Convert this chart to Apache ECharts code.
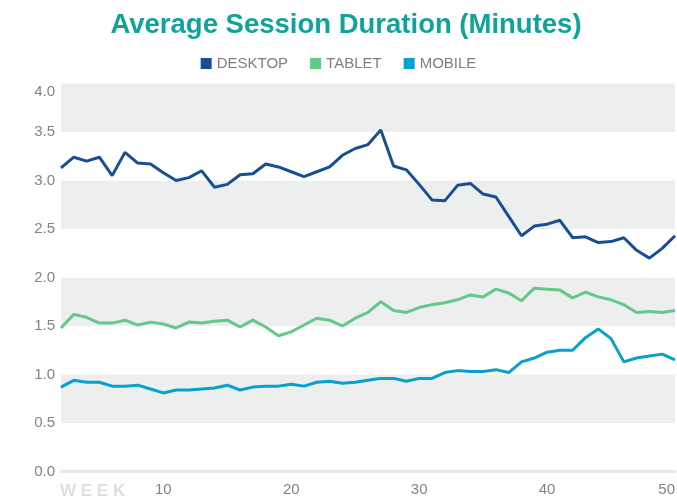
<!DOCTYPE html>
<html>
<head>
<meta charset="utf-8" />
<script src="https://cdn.jsdelivr.net/npm/echarts@6/dist/echarts.min.js"></script>
<style>
	html, body { margin: 0; padding: 0; background: #fff; }
	#chart { width: 677px; height: 500px; }
</style>
</head>
<body>
<div id="chart"></div>
<script>
	// weeks 2..50
	var weeks = [];
	for (var w = 2; w <= 50; w++) weeks.push(w);

	var desktop = [3.13, 3.24, 3.20, 3.24, 3.05, 3.29, 3.18, 3.17, 3.08, 3.00,
		3.03, 3.10, 2.93, 2.96, 3.06, 3.07, 3.17, 3.14, 3.09, 3.04,
		3.09, 3.14, 3.26, 3.33, 3.37, 3.52, 3.15, 3.11, 2.96, 2.80,
		2.79, 2.95, 2.97, 2.86, 2.83, 2.63, 2.43, 2.53, 2.55, 2.59,
		2.41, 2.42, 2.36, 2.37, 2.41, 2.28, 2.20, 2.30, 2.43];

	var tablet = [1.48, 1.62, 1.59, 1.53, 1.53, 1.56, 1.51, 1.54, 1.52, 1.48,
		1.54, 1.53, 1.55, 1.56, 1.49, 1.56, 1.49, 1.40, 1.44, 1.51,
		1.58, 1.56, 1.50, 1.58, 1.64, 1.75, 1.66, 1.64, 1.69, 1.72,
		1.74, 1.77, 1.82, 1.80, 1.88, 1.84, 1.76, 1.89, 1.88, 1.87,
		1.79, 1.85, 1.80, 1.77, 1.72, 1.64, 1.65, 1.64, 1.66];

	var mobile = [0.87, 0.94, 0.92, 0.92, 0.88, 0.88, 0.89, 0.85, 0.81, 0.84,
		0.84, 0.85, 0.86, 0.89, 0.84, 0.87, 0.88, 0.88, 0.90, 0.88,
		0.92, 0.93, 0.91, 0.92, 0.94, 0.96, 0.96, 0.93, 0.96, 0.96,
		1.02, 1.04, 1.03, 1.03, 1.05, 1.02, 1.13, 1.17, 1.23, 1.25,
		1.25, 1.38, 1.47, 1.37, 1.13, 1.17, 1.19, 1.21, 1.15];

	var yTicks = [0, 0.5, 1, 1.5, 2, 2.5, 3, 3.5, 4];

	var fontFam = "'Liberation Sans', Arial, sans-serif";
	var labelColor = "#7f8484";

	var chart = echarts.init(document.getElementById('chart'), null, { renderer: 'canvas' });

	var option = {
		animation: false,
		color: ['#174f92', '#62c987', '#07a1cd'],
		title: {
			text: 'Average Session Duration (Minutes)',
			left: 341,
			textAlign: 'center',
			top: 6,
			textStyle: {
				fontFamily: fontFam,
				fontSize: 27.5,
				fontWeight: 'bold',
				color: '#0fa39b'
			}
		},
		legend: {
			top: 51,
			left: 'center',
			itemWidth: 11,
			itemHeight: 11,
			itemGap: 22,
			icon: 'rect',
			textStyle: {
				fontFamily: fontFam,
				fontSize: 15,
				color: '#7a7f80'
			},
			data: ['DESKTOP', 'TABLET', 'MOBILE']
		},
		grid: {
			left: 61,
			right: 2,
			top: 83.5,
			bottom: 28.5,
			containLabel: false,
			outerBoundsMode: 'none'
		},
		xAxis: {
			type: 'category',
			boundaryGap: false,
			data: weeks,
			axisLine: { show: true, lineStyle: { color: '#e8e8e8', width: 3 } },
			axisTick: { show: false },
			axisLabel: {
				interval: function(index, value) {
					return Number(value) % 10 === 0;
				},
				alignMaxLabel: 'right',
				margin: 11,
				fontFamily: fontFam,
				fontSize: 15,
				color: labelColor
			},
			splitLine: { show: false }
		},
		yAxis: {
			type: 'value',
			min: yTicks[0],
			max: yTicks[yTicks.length - 1],
			interval: 0.5,
			axisLine: { show: false },
			axisTick: { show: false },
			splitLine: { show: false },
			splitArea: {
				show: true,
				areaStyle: { color: ['#ffffff', '#edeeee'] }
			},
			axisLabel: {
				margin: 6,
				fontFamily: fontFam,
				fontSize: 15,
				color: labelColor,
				formatter: function(v) {
					if (v === 4) return '{top|4.0}';
					return v.toFixed(1);
				},
				rich: {
					top: {
						fontFamily: fontFam,
						fontSize: 15,
						color: labelColor,
						padding: [16, 0, 0, 0]
					}
				}
			}
		},
		graphic: [{
			type: 'text',
			left: 60,
			top: 483,
			style: {
				text: 'W E E K',
				fontFamily: fontFam,
				fontSize: 17,
				fontWeight: 'bold',
				fill: '#dcdfdf'
			}
		}],
		series: [{
			name: 'DESKTOP',
			type: 'line',
			data: desktop,
			symbol: 'none',
			lineStyle: { width: 3 }
		}, {
			name: 'TABLET',
			type: 'line',
			data: tablet,
			symbol: 'none',
			lineStyle: { width: 3 }
		}, {
			name: 'MOBILE',
			type: 'line',
			data: mobile,
			symbol: 'none',
			lineStyle: { width: 3 }
		}]
	};

	chart.setOption(option);
</script>
</body>
</html>
